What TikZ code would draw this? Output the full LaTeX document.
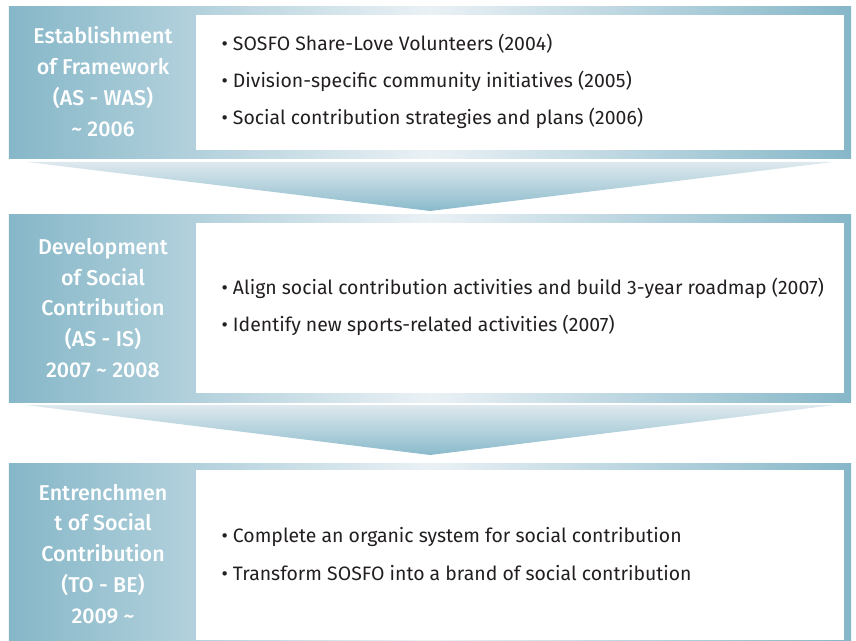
\documentclass[tikz,border=0pt]{standalone}
\usepackage{fontspec}
\setmainfont{Fira Sans}
\newfontfamily\phasefont{Fira Sans Medium}
\usetikzlibrary{positioning,calc}
\definecolor{teal1}{HTML}{86B7C8}
\definecolor{teal2}{HTML}{EAF1F5}
\definecolor{arrtop}{HTML}{DEE9EE}
\definecolor{arrbot}{HTML}{8ABACB}
\definecolor{txt}{HTML}{231F20}
\begin{document}
\begin{tikzpicture}[x=1bp,y=-1bp,
  band/.style={inner sep=0pt, minimum width=842bp, left color=teal1, right color=teal1, middle color=teal2},
  card/.style={fill=white, inner sep=0pt, minimum width=648bp},
  phase/.style={text=white, align=center, font=\phasefont\fontsize{21.5}{31}\selectfont},
  items/.style={text=txt, align=left, anchor=west, font=\fontsize{19.5}{37.5}\selectfont}]
  \useasboundingbox (0,0) rectangle (856,641);
  % stage 1 : establishment of framework
  \node[band, minimum height=152bp] (b1) at (430,83) {};
  \node[card, minimum height=135bp] (c1) at (520,82.5) {};
  \node[phase] (p1) at (103,81.5) {Establishment\\of Framework\\(AS - WAS)\\\textasciitilde{} 2006};
  \node[items] (i1) at (218,81.5) {\textbullet\ SOSFO Share-Love Volunteers (2004)\\\textbullet\ Division-specific community initiatives (2005)\\\textbullet\ Social contribution strategies and plans (2006)};
  % arrow 1
  \shade[top color=arrtop, bottom color=arrbot] (27,162) -- (833,162) -- (430,211) -- cycle;
  % stage 2 : development of social contribution
  \node[band, minimum height=187bp] (b2) at (430,308.5) {};
  \node[card, minimum height=170bp] (c2) at (520,308) {};
  \node[phase] (p2) at (103,308) {Development\\of Social\\Contribution\\(AS - IS)\\2007 \textasciitilde{} 2008};
  \node[items] (i2) at (218,307) {\textbullet\ Align social contribution activities and build 3-year roadmap (2007)\\\textbullet\ Identify new sports-related activities (2007)};
  % arrow 2
  \shade[top color=arrtop, bottom color=arrbot] (25,405) -- (835,405) -- (430,455) -- cycle;
  % stage 3 : entrenchment of social contribution
  \node[band, minimum height=185bp] (b3) at (430,555.5) {};
  \node[card, minimum height=170bp] (c3) at (520,555) {};
  \node[phase] (p3) at (103,554) {Entrenchmen\\t of Social\\Contribution\\(TO - BE)\\2009 \textasciitilde};
  \node[items] (i3) at (218,554) {\textbullet\ Complete an organic system for social contribution\\\textbullet\ Transform SOSFO into a brand of social contribution};
\end{tikzpicture}
\end{document}
